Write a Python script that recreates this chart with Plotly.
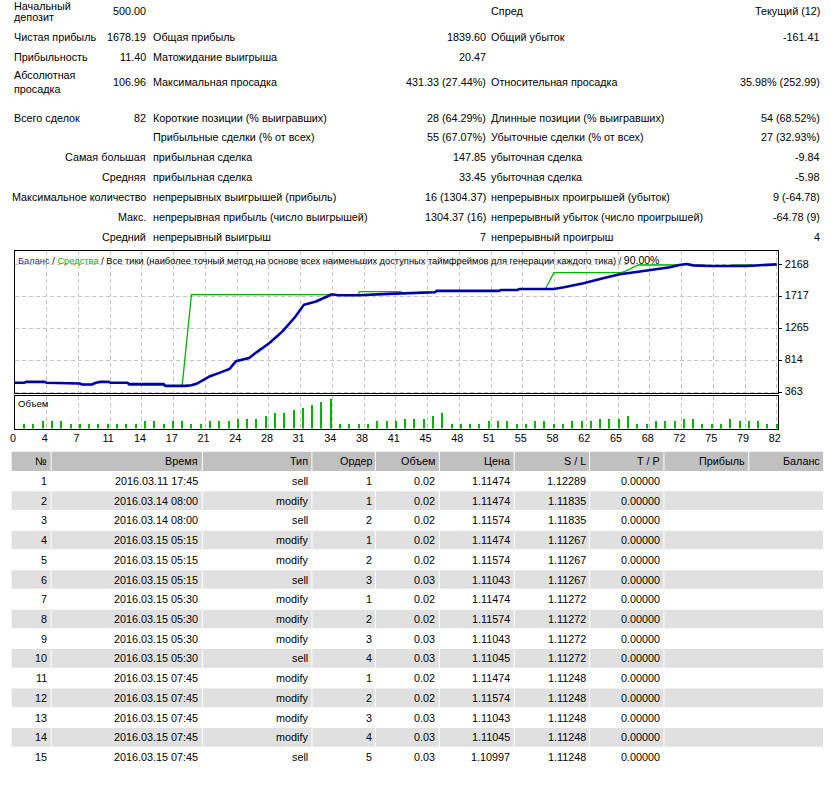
import plotly.graph_objects as go

W, H = 837, 792
FONT = "Liberation Sans, Arial, sans-serif"
FS = 10.8

# ---------------- data: summary block ----------------
row_a_labels = ["Начальный|депозит", "Чистая прибыль", "Прибыльность", "Абсолютная|просадка",
                "Всего сделок", "", "Самая большая", "Средняя", "Максимальное количество",
                "Макс.", "Средний"]
row_a_values = ["500.00", "1678.19", "11.40", "106.96", "82", "", "", "", "", "", ""]
row_b_labels = ["", "Общая прибыль", "Матожидание выигрыша", "Максимальная просадка",
                "Короткие позиции (% выигравших)", "Прибыльные сделки (% от всех)",
                "прибыльная сделка", "прибыльная сделка", "непрерывных выигрышей (прибыль)",
                "непрерывная прибыль (число выигрышей)", "непрерывный выигрыш"]
row_b_values = ["", "1839.60", "20.47", "431.33 (27.44%)", "28 (64.29%)", "55 (67.07%)",
                "147.85", "33.45", "16 (1304.37)", "1304.37 (16)", "7"]
row_c_labels = ["Спред", "Общий убыток", "", "Относительная просадка",
                "Длинные позиции (% выигравших)", "Убыточные сделки (% от всех)",
                "убыточная сделка", "убыточная сделка", "непрерывных проигрышей (убыток)",
                "непрерывный убыток (число проигрышей)", "непрерывный проигрыш"]
row_c_values = ["Текущий (12)", "-161.41", "", "35.98% (252.99)", "54 (68.52%)", "27 (32.93%)",
                "-9.84", "-5.98", "9 (-64.78)", "-64.78 (9)", "4"]

# ---------------- data: balance / equity curve ----------------
balance_points = [
    (0, 494), (1.0, 494), (1.2, 507), (3.2, 507), (3.4, 494), (4.9, 494), (5.1, 484),
    (7.0, 484), (7.2, 470), (8.3, 470), (8.7, 494), (9.2, 507), (10.1, 507), (10.3, 494),
    (12.1, 494), (12.3, 475), (16.0, 475), (16.2, 451), (18.3, 451), (19.0, 460),
    (19.6, 484), (20.3, 531), (21.0, 588), (22.0, 635), (23.1, 691), (23.8, 800),
    (25.2, 847), (26.0, 927), (27.4, 1059), (28.8, 1224), (30.2, 1436), (31.1, 1601),
    (32.4, 1648), (33.6, 1719), (34.1, 1752), (34.8, 1738), (37.0, 1738), (40.2, 1757),
    (43.2, 1771), (43.4, 1780), (45.2, 1780), (45.4, 1799), (52.1, 1799), (52.3, 1813),
    (54.1, 1813), (54.3, 1827), (58.0, 1827), (59.1, 1851), (61.2, 1907), (63.3, 1978),
    (65.1, 2035), (67.1, 2072), (68.3, 2096), (70.5, 2134), (71.5, 2167), (72.3, 2181),
    (73.0, 2162), (74.8, 2153), (78.7, 2153), (80.8, 2167), (82.0, 2176),
]
equity_points = [
    (0, 494), (1.0, 494), (1.2, 507), (3.2, 507), (3.4, 494), (4.9, 494), (5.1, 484),
    (7.0, 484), (7.2, 470), (8.3, 470), (8.7, 494), (9.2, 507), (10.1, 507), (10.3, 494),
    (12.1, 494), (12.3, 460), (15.9, 460), (16.1, 447), (16.9, 447), (17.1, 451),
    (18.0, 451), (19.0, 1745), (34.2, 1745), (34.8, 1738), (36.9, 1738), (37.1, 1790),
    (41.5, 1790), (41.7, 1771), (43.2, 1771), (43.4, 1780), (45.2, 1780), (45.4, 1799),
    (52.1, 1799), (52.3, 1813), (54.1, 1813), (54.3, 1827), (57.1, 1827), (58.0, 2058),
    (65.2, 2058), (65.6, 2072), (67.1, 2167), (71.5, 2167), (72.3, 2181), (73.0, 2162),
    (74.3, 2162), (74.5, 2148), (75.2, 2148), (75.4, 2153), (77.0, 2153), (77.2, 2167),
    (79.2, 2167), (79.4, 2153), (80.8, 2167), (82.0, 2176),
]
volumes = [0.02, 0.02, 0.03, 0.03, 0.03, 0.02, 0.02, 0.02, 0.02, 0.02, 0.02, 0.02, 0.02,
           0.03, 0.03, 0.02, 0.03, 0.03, 0.02, 0.02, 0.03, 0.03, 0.03, 0.04, 0.04, 0.04,
           0.05, 0.06, 0.06, 0.07, 0.08, 0.09, 0.10, 0.11, 0.02, 0.02, 0.02, 0.02, 0.03,
           0.03, 0.03, 0.04, 0.04, 0.04, 0.05, 0.06, 0.02, 0.02, 0.02, 0.02, 0.03, 0.03,
           0.03, 0.02, 0.02, 0.03, 0.03, 0.02, 0.02, 0.03, 0.03, 0.03, 0.04, 0.04, 0.04,
           0.05, 0.02, 0.02, 0.03, 0.03, 0.03, 0.04, 0.04, 0.02, 0.02, 0.02, 0.04, 0.03,
           0.03, 0.03, 0.02, 0.02]
x_tick_labels = ["0", "4", "7", "11", "14", "17", "21", "24", "28", "31", "34", "38", "41",
                 "45", "48", "51", "55", "58", "62", "65", "68", "72", "75", "79", "82"]
y_tick_values = [363, 814, 1265, 1717, 2168]
total_trades = 82

# ---------------- data: trade table ----------------
table_header = ["№", "Время", "Тип", "Ордер", "Объем", "Цена", "S / L", "T / P", "Прибыль", "Баланс"]
trade_no = [str(i) for i in range(1, 16)]
trade_time = ["2016.03.11 17:45", "2016.03.14 08:00", "2016.03.14 08:00", "2016.03.15 05:15",
              "2016.03.15 05:15", "2016.03.15 05:15", "2016.03.15 05:30", "2016.03.15 05:30",
              "2016.03.15 05:30", "2016.03.15 05:30", "2016.03.15 07:45", "2016.03.15 07:45",
              "2016.03.15 07:45", "2016.03.15 07:45", "2016.03.15 07:45"]
trade_type = ["sell", "modify", "sell", "modify", "modify", "sell", "modify", "modify",
              "modify", "sell", "modify", "modify", "modify", "modify", "sell"]
trade_order = ["1", "1", "2", "1", "2", "3", "1", "2", "3", "4", "1", "2", "3", "4", "5"]
trade_volume = ["0.02", "0.02", "0.02", "0.02", "0.02", "0.03", "0.02", "0.02", "0.03",
                "0.03", "0.02", "0.02", "0.03", "0.03", "0.03"]
trade_price = ["1.11474", "1.11474", "1.11574", "1.11474", "1.11574", "1.11043", "1.11474",
               "1.11574", "1.11043", "1.11045", "1.11474", "1.11574", "1.11043", "1.11045",
               "1.10997"]
trade_sl = ["1.12289", "1.11835", "1.11835", "1.11267", "1.11267", "1.11267", "1.11272",
            "1.11272", "1.11272", "1.11272", "1.11248", "1.11248", "1.11248", "1.11248",
            "1.11248"]
trade_tp = ["0.00000"] * 15

# ---------------- helpers ----------------
def X(px):
    return px / W

def Y(py):
    return 1 - py / H

annotations = []
shapes = []

def txt(s, x, y, anchor, size=FS, color="black"):
    annotations.append(dict(text=s, x=X(x), y=Y(y), xref="paper", yref="paper",
                            xanchor=anchor, yanchor="middle", align=anchor, showarrow=False,
                            borderpad=0, borderwidth=0,
                            font=dict(size=size, color=color, family=FONT)))

def rect(x0, y0, x1, y1, color):
    shapes.append(dict(type="rect", xref="paper", yref="paper", x0=X(x0), x1=X(x1),
                       y0=Y(y1), y1=Y(y0), fillcolor=color, line=dict(width=0), layer="below"))

# ---------------- summary block ----------------
row_y = [11, 37.5, 57, 82.5, 118.5, 138, 158, 178, 198, 218, 238]
for i, y in enumerate(row_y):
    la = row_a_labels[i]
    if "|" in la:
        l1, l2 = la.split("|")
        txt(l1, 9, y - 5 if i == 0 else y - 7, "left")
        txt(l2, 9, y + 6 if i == 0 else y + 7, "left")
    elif la:
        txt(la, 9 if i <= 4 else 142, y, "left" if i <= 4 else "right")
    if row_a_values[i]:
        txt(row_a_values[i], 142, y, "right")
    if row_b_labels[i]:
        txt(row_b_labels[i], 149, y, "left")
    if row_b_values[i]:
        txt(row_b_values[i], 485, y, "right")
    if row_c_labels[i]:
        txt(row_c_labels[i], 490, y, "left")
    if row_c_values[i]:
        txt(row_c_values[i], 822, y, "right")

# ---------------- chart ----------------
PX_PER_TRADE = 32 / (total_trades / 24)
x_max = (780 - 10.3) / PX_PER_TRADE
grid_vals = [k * total_trades / 24 for k in range(25)]

fig = go.Figure()
fig.add_trace(go.Scatter(x=[p[0] for p in equity_points], y=[p[1] for p in equity_points],
                         mode="lines", line=dict(color="#00b400", width=1.3),
                         xaxis="x", yaxis="y", hoverinfo="skip", showlegend=False))
fig.add_trace(go.Scatter(x=[p[0] for p in balance_points], y=[p[1] for p in balance_points],
                         mode="lines", line=dict(color="#0000a8", width=2.6),
                         xaxis="x", yaxis="y", hoverinfo="skip", showlegend=False))
fig.add_trace(go.Bar(x=list(range(1, len(volumes) + 1)), y=volumes, width=0.14,
                     marker=dict(color="#00b400", line=dict(width=0)),
                     xaxis="x2", yaxis="y2", hoverinfo="skip", showlegend=False))

grid = dict(showgrid=True, gridcolor="#c4c4c4", griddash="4px,3px", gridwidth=1)
frame = dict(showline=True, mirror=True, linecolor="black", linewidth=1, zeroline=False)

fig.update_layout(
    width=W, height=H, autosize=False,
    margin=dict(l=0, r=0, t=0, b=0, pad=0),
    paper_bgcolor="white", plot_bgcolor="white",
    font=dict(family=FONT, size=FS, color="black"),
    bargap=0,
    xaxis=dict(domain=[X(10), X(780)], range=[0, x_max], anchor="y",
               tickvals=grid_vals, showticklabels=False, ticks="", **grid, **frame),
    yaxis=dict(domain=[Y(395.3), Y(252.7)], range=[345, 2360], anchor="x", side="right",
               tickvals=y_tick_values, ticks="outside", ticklen=3, tickcolor="black",
               ticklabelshift=-1,
               tickfont=dict(size=FS, color="black", family=FONT), **grid, **frame),
    xaxis2=dict(domain=[X(10), X(780)], range=[0, x_max], anchor="y2",
                tickvals=grid_vals, ticktext=x_tick_labels, ticks="", ticklabelshift=-2,
                tickfont=dict(size=FS, color="black", family=FONT), **grid, **frame),
    yaxis2=dict(domain=[Y(430.7), Y(397.7)], range=[0.003, 0.122], anchor="x2",
                showgrid=False, showticklabels=False, ticks="", **frame),
)

legend_text = ("<span style='color:#2a2aa0'>Баланс</span> / "
               "<span style='color:#00b400'>Средства</span> / "
               "Все тики (наиболее точный метод на основе всех наименьших доступных "
               "таймфреймов для генерации каждого тика) / "
               "<span style='font-size:10.5px'>90.00%</span>")
txt(legend_text, 13, 261.5, "left", size=9.3)
txt("Объем", 13, 406, "left", size=9.5)

# ---------------- trade table ----------------
col_left = [6.7, 47, 199.5, 310, 374, 438.5, 514, 590, 665, 750.5]
col_right = [46, 198.5, 309, 373, 437.5, 513, 589, 664, 749.5, 825]
header_y0, header_y1 = 454, 473.3
row_c0, row_step, row_half = 483.3, 19.83, 9.35

for j, h in enumerate(table_header):
    rect(col_left[j], header_y0, col_right[j], header_y1, "#c0c0c0")
    txt(h, col_right[j] - 3.4, (header_y0 + header_y1) / 2, "right")

columns = [trade_no, trade_time, trade_type, trade_order, trade_volume,
           trade_price, trade_sl, trade_tp]
for i in range(len(trade_no)):
    yc = row_c0 + i * row_step
    if i % 2 == 1:
        for j in range(8):
            rect(col_left[j], yc - row_half, col_right[j], yc + row_half, "#e0e0e0")
        rect(col_left[8], yc - row_half, col_right[9], yc + row_half, "#e0e0e0")
    for j, col in enumerate(columns):
        txt(col[i], col_right[j] - 3.4, yc, "right")

fig.update_layout(annotations=annotations, shapes=shapes)
fig.write_html("out.html")
